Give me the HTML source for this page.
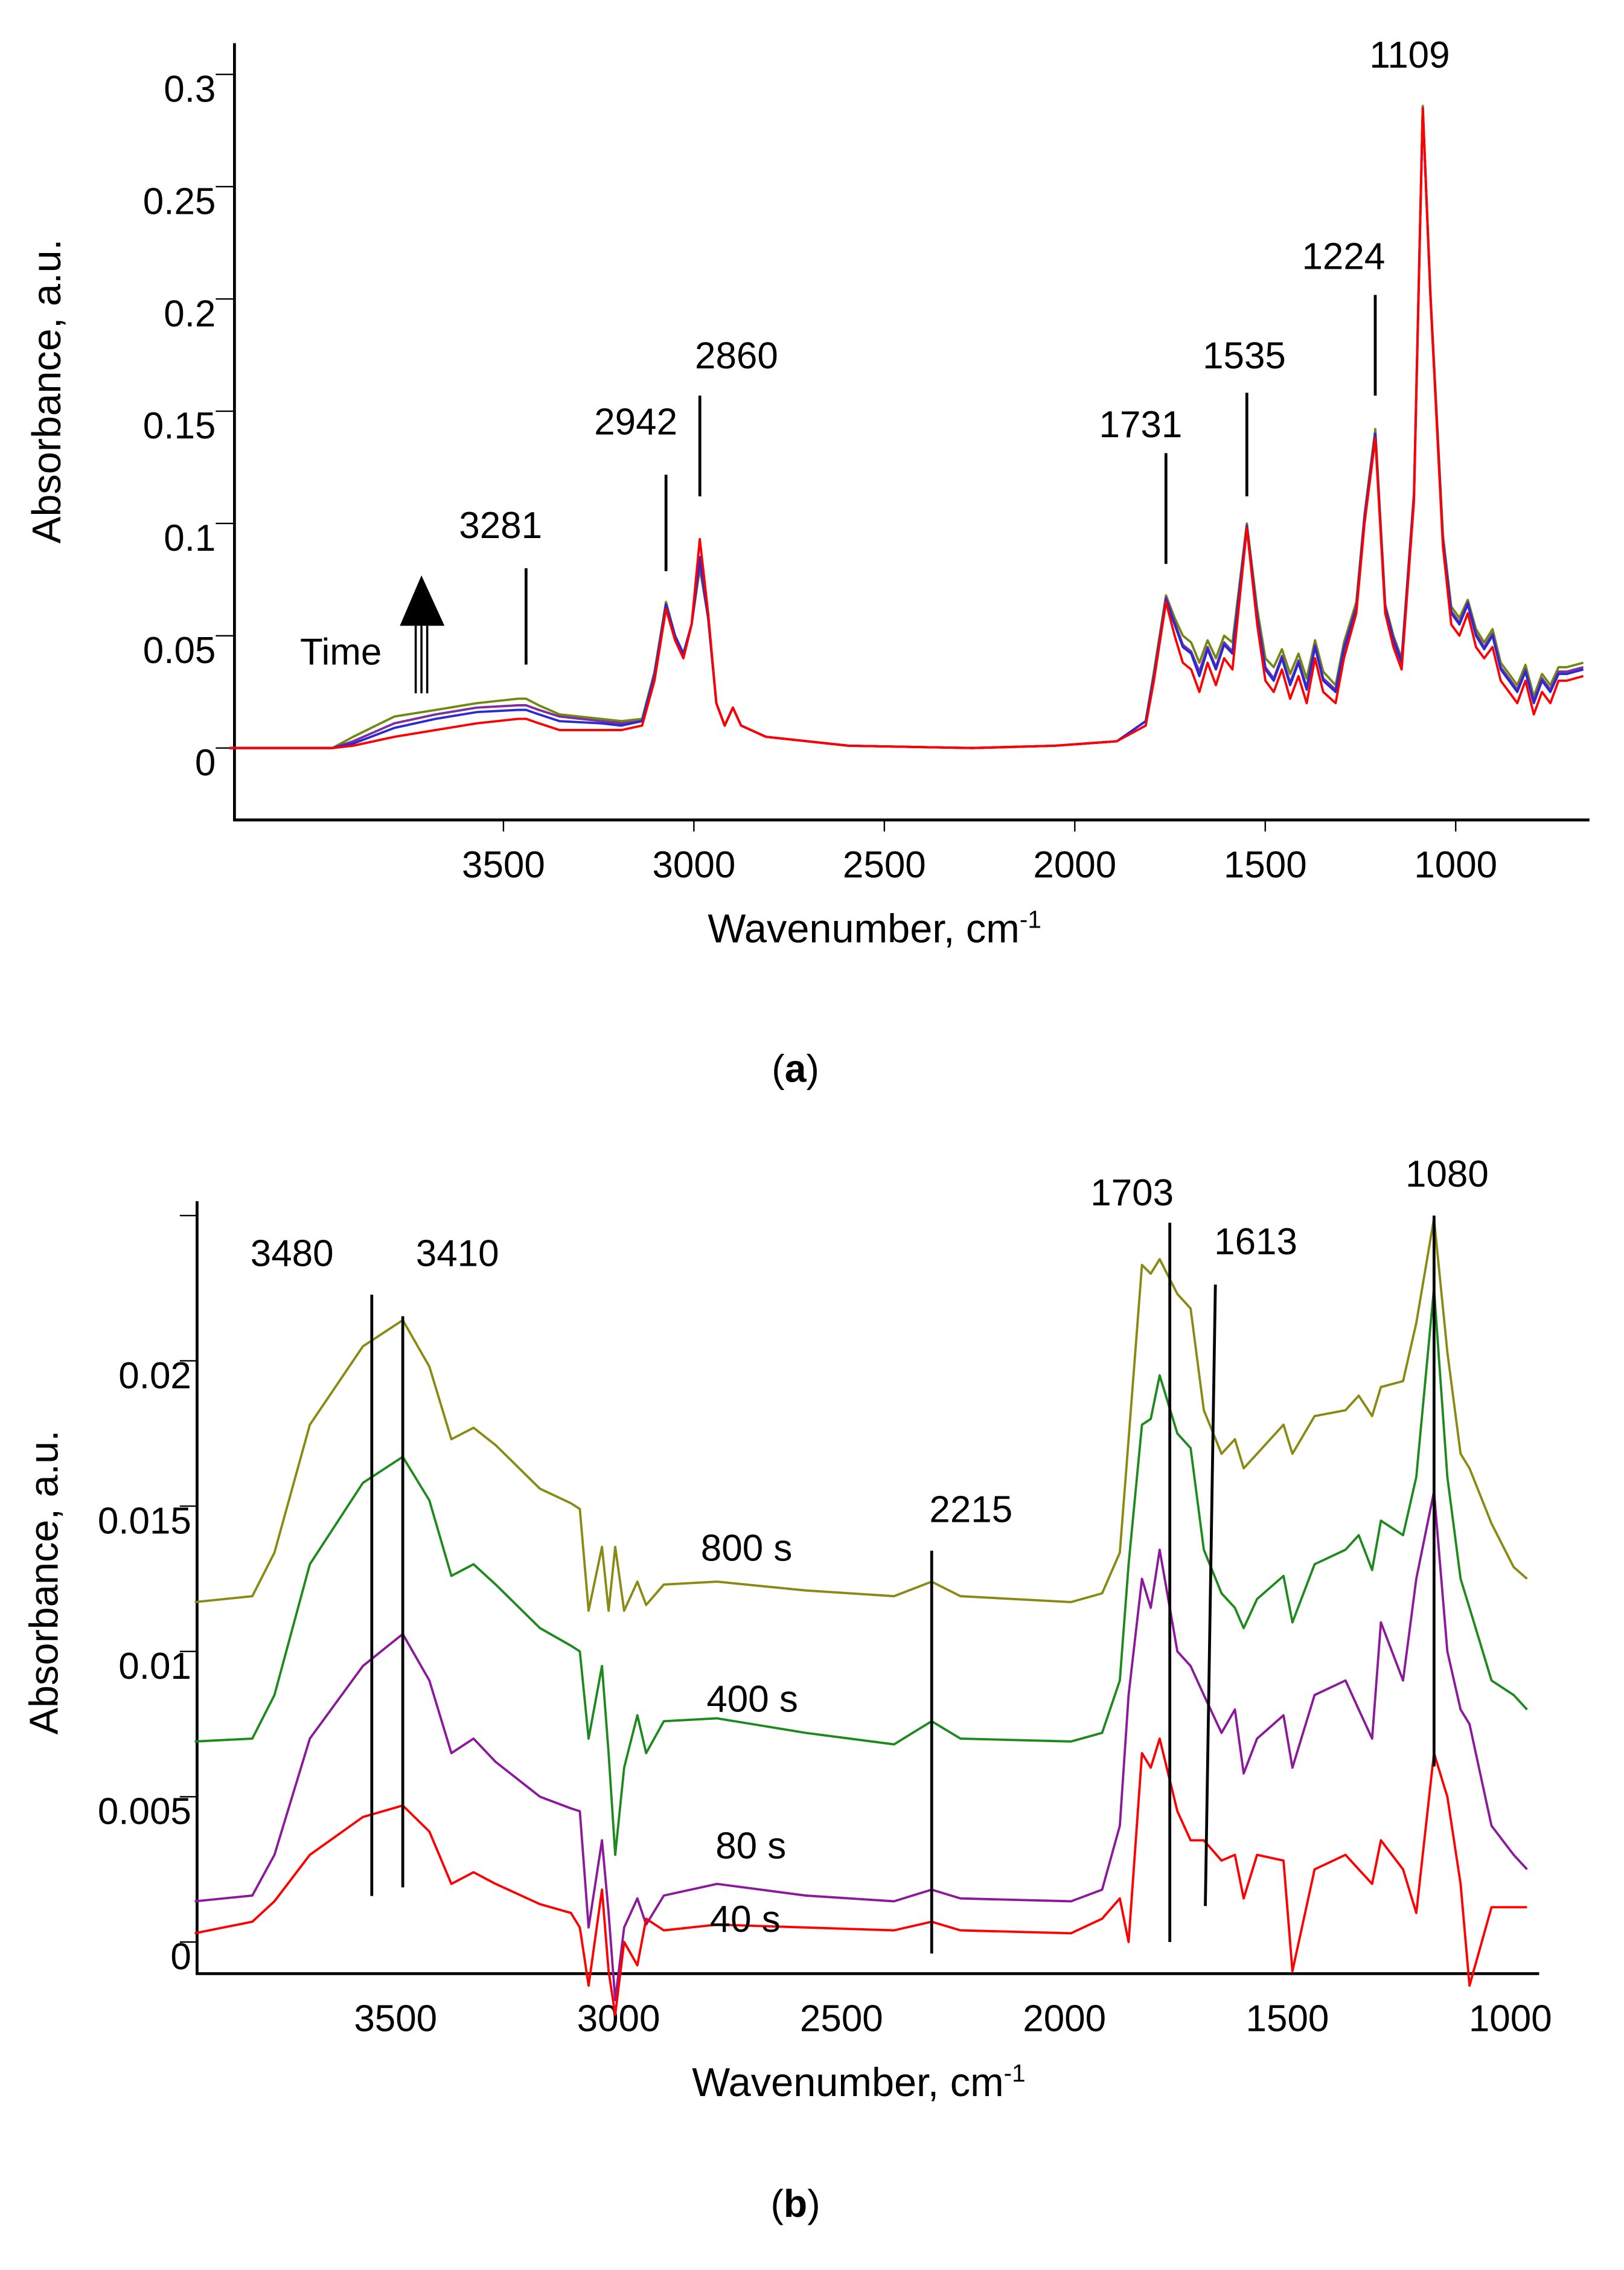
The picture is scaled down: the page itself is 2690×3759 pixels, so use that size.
<!DOCTYPE html>
<html><head><meta charset="utf-8"><style>
html,body{margin:0;padding:0;background:#fff}
svg{display:block}
text{font-family:"Liberation Sans",sans-serif;fill:#000}
</style></head><body>
<svg id="chart" width="2690" height="3759" viewBox="0 0 1129 1578" preserveAspectRatio="none" xmlns="http://www.w3.org/2000/svg">
<rect width="1129" height="1578" fill="#fff"/>
<g id="ga"></g>
<g id="gb"></g>
</svg>
<script>
// ---------- Panel (a) data (absorbance x1000) ----------
const wnA=[4000,3750,3700,3600,3500,3400,3300,3281,3250,3200,3100,3050,3000,2970,2942,2920,2900,2880,2860,2840,2820,2800,2780,2760,2700,2500,2200,2000,1850,1780,1760,1731,1710,1690,1670,1650,1630,1610,1590,1570,1535,1510,1490,1470,1450,1430,1410,1390,1370,1350,1320,1300,1270,1250,1224,1200,1180,1160,1130,1109,1090,1060,1040,1020,1000,980,960,940,920,900,880,860,840,820,800,780,760,720];
const redA=[0,0,1,5,8,11,13,13,11,8,8,8,10,30,62,48,40,55,93,60,20,10,18,10,5,1,0,1,3,10,30,65,50,38,35,25,38,28,40,35,98,55,30,25,35,22,32,20,40,25,20,40,60,100,138,60,45,35,110,285,200,90,55,50,60,45,40,45,30,25,20,30,15,25,20,30,30,32];
const blueA=[0,0,2,9,13,16,17,17,15,12,11,10,12,32,64,50,42,55,85,58,20,10,18,10,5,1,0,1,3,12,32,66,55,45,42,32,44,35,46,42,99,58,35,30,40,28,38,26,45,30,25,44,62,102,140,62,48,38,112,285,200,92,60,55,64,50,44,50,35,30,25,34,20,30,25,33,33,35];
const purpleA=[0,0,3,11,15,18,19,19,17,14,12,11,12,33,64,50,42,55,82,58,20,10,18,10,5,1,0,1,3,12,32,67,56,46,43,34,45,36,47,43,99,59,36,31,41,29,39,27,46,31,26,45,63,103,140,63,49,39,113,285,201,93,61,56,65,51,45,51,36,31,26,35,21,31,26,34,34,36];
const oliveA=[0,0,5,14,17,20,22,22,19,15,13,12,13,34,65,50,42,55,80,58,20,10,18,10,5,1,0,1,3,12,34,68,58,50,47,38,48,40,50,47,100,62,40,36,44,33,42,31,48,34,28,47,65,104,142,64,50,40,114,286,202,95,63,58,66,53,47,53,38,33,28,37,23,33,28,36,36,38];
const yTicksA=[0,50,100,150,200,250,300];
const yTickLabelsA=["0","0.05","0.1","0.15","0.2","0.25","0.3"];
const xTicksA=[3500,3000,2500,2000,1500,1000];
const peaksA=[3281,2942,2860,1731,1535,1224,1109];

// ---------- Panel (b) data (absorbance x1000) ----------
const wnB=[3880,3750,3700,3620,3500,3410,3350,3300,3250,3200,3100,3030,3010,2990,2960,2945,2930,2910,2880,2860,2820,2700,2500,2300,2215,2150,1900,1830,1790,1770,1740,1720,1700,1660,1630,1600,1560,1530,1510,1480,1420,1400,1350,1280,1250,1220,1200,1150,1120,1080,1050,1020,1000,950,900,870];
const olive800=[11.7,11.9,13.4,17.8,20.5,21.4,19.8,17.3,17.7,17.1,15.6,15.1,14.9,11.4,13.6,11.4,13.6,11.4,12.4,11.6,12.3,12.4,12.1,11.9,12.4,11.9,11.7,12.0,13.4,17.3,23.3,23.0,23.5,22.3,21.8,18.3,16.8,17.3,16.3,16.8,17.8,16.8,18.1,18.3,18.8,18.1,19.1,19.3,21.3,24.9,20.3,16.8,16.3,14.4,12.9,12.5];
const green400=[6.9,7.0,8.5,13.0,15.8,16.7,15.2,12.6,13.0,12.3,10.8,10.2,10.0,7.0,9.5,6.5,3.0,6.0,7.8,6.5,7.6,7.7,7.2,6.8,7.6,7.0,6.9,7.2,9.0,13.0,17.8,18.0,19.5,17.5,17.0,13.5,12.0,11.5,10.8,11.8,12.6,11.0,13.0,13.5,14.0,12.8,14.5,14.0,16.0,22.5,16.0,12.5,11.5,9.0,8.5,8.0];
const purple80=[1.4,1.6,3.0,7.0,9.5,10.6,9.0,6.5,7.0,6.2,5.0,4.6,4.5,0.5,3.5,1.0,-2.0,0.5,1.5,0.6,1.6,2.0,1.6,1.4,1.8,1.5,1.4,1.8,4.0,8.5,12.5,11.5,13.5,10.0,9.5,8.5,7.2,8.0,5.8,7.0,7.8,6.0,8.5,9.0,8.0,7.0,11.0,9.0,12.5,15.5,10.0,8.0,7.5,4.0,3.0,2.5];
const red40=[0.3,0.7,1.4,3.0,4.3,4.7,3.8,2.0,2.4,2.0,1.3,1.0,0.5,-1.5,1.8,-1.0,-2.5,0.0,-0.8,0.8,0.4,0.6,0.5,0.4,0.7,0.4,0.3,0.8,1.5,0.0,6.5,6.0,7.0,4.5,3.5,3.5,2.8,3.0,1.5,3.0,2.8,-1.0,2.5,3.0,2.5,2.0,3.5,2.5,1.0,6.5,5.0,2.0,-1.5,1.2,1.2,1.2];
const yTicksB=[0,5,10,15,20,25];
const yTickLabelsB=["0","0.005","0.01","0.015","0.02",""];
const xTicksB=[3500,3000,2500,2000,1500,1000];
const seriesLabelsB=["800 s","400 s","80 s","40 s"];

const NS="http://www.w3.org/2000/svg";
function mk(parent,tag,attrs,txt){const e=document.createElementNS(NS,tag);for(const k in attrs)e.setAttribute(k,attrs[k]);if(txt!==undefined)e.textContent=txt;parent.appendChild(e);return e;}

// ---------- Panel A ----------
const ga=document.getElementById('ga');
const xA=w=>463+(2942-w)*0.287;
const xLabA=w=>350+(3500-w)*0.2648;
const yA=m=>520-m*1.561;
let ax=mk(ga,'path',{d:'M163,30 V570 H1105',fill:'none',stroke:'#000','stroke-width':2});


yTicksA.forEach((t,i)=>{
  const tk=mk(ga,'line',{x1:150,x2:163,y1:yA(t),y2:yA(t),stroke:'#000','stroke-width':1});
  
  
  const lb=mk(ga,'text',{x:150,y:yA(t)+19,'font-size':26,'text-anchor':'end'},yTickLabelsA[i]);
  
  
});
xTicksA.forEach(t=>{
  const x=xLabA(t);
  const tk=mk(ga,'line',{x1:x,x2:x,y1:570,y2:578,stroke:'#000','stroke-width':1});
  
  
  const lb=mk(ga,'text',{x:x,y:610,'font-size':26,'text-anchor':'middle'},String(t));
  
  
});
let t1=mk(ga,'text',{x:608,y:655,'font-size':28,'text-anchor':'middle'},'Wavenumber, cm');


mk(t1,'tspan',{dy:-10,'font-size':17},'-1');
let t2=mk(ga,'text',{x:0,y:0,'font-size':28,'text-anchor':'middle',transform:'translate(42,272) rotate(-90)'},'Absorbance, a.u.');


[[oliveA,'#6f8a10'],[purpleA,'#7a2ea0'],[blueA,'#2a2ad0'],[redA,'#ff0000']].forEach(([s,c])=>{
  const d=s.map((v,i)=>(i?'L':'M')+xA(wnA[i]).toFixed(1)+','+yA(v).toFixed(1)).join(' ');
  const p=mk(ga,'path',{d:d,fill:'none',stroke:c,'stroke-width':1.6,'stroke-linejoin':'round'});
  
  
});
const peakPosA={3281:[395,462,348,374],2942:[330,397,442,302],2860:[275,345,512,256],1731:[315,392,793,304],1535:[273,345,865,256],1224:[205,275,934,187],1109:[null,null,980,47]};
peaksA.forEach(p=>{
  const g=peakPosA[p];
  if(g[0]!==null){const l=mk(ga,'line',{x1:xA(p),x2:xA(p),y1:g[0],y2:g[1],stroke:'#000','stroke-width':2});
    
    }
  const t=mk(ga,'text',{x:g[2],y:g[3],'font-size':26,'text-anchor':'middle'},String(p));
  
  
});
let tl=mk(ga,'text',{x:237,y:462,'font-size':26,'text-anchor':'middle'},'Time');


let ar=mk(ga,'g',{});


mk(ar,'polygon',{points:'278,435 293,400 309,435',fill:'#000'});
[289,293,297].forEach(x=>mk(ar,'line',{x1:x,x2:x,y1:435,y2:482,stroke:'#000','stroke-width':1.5}));
let la=mk(ga,'text',{x:553,y:752,'font-size':27,'text-anchor':'middle','font-family':'Liberation Serif, serif'},'(');


mk(la,'tspan',{'font-weight':'bold'},'a');mk(la,'tspan',{},')');

// ---------- Panel B ----------
const gb=document.getElementById('gb');
const xB=w=>280+(3410-w)*0.3077;
const xLabB=w=>275+(3500-w)*0.31;
const yB=v=>1350-v*20.2;
let bx=mk(gb,'path',{d:'M137,835 V1372 H1070',fill:'none',stroke:'#000','stroke-width':2});


yTicksB.forEach((t,i)=>{
  const tk=mk(gb,'line',{x1:125,x2:137,y1:yB(t),y2:yB(t),stroke:'#000','stroke-width':1});
  
  
  const lb=mk(gb,'text',{x:133,y:yB(t)+19,'font-size':26,'text-anchor':'end'},yTickLabelsB[i]);
  
  
});
xTicksB.forEach(t=>{
  const lb=mk(gb,'text',{x:xLabB(t),y:1412,'font-size':26,'text-anchor':'middle'},String(t));
  
  
});
let t3=mk(gb,'text',{x:597,y:1457,'font-size':28,'text-anchor':'middle'},'Wavenumber, cm');


mk(t3,'tspan',{dy:-10,'font-size':17},'-1');
let t4=mk(gb,'text',{x:0,y:0,'font-size':28,'text-anchor':'middle',transform:'translate(40,1100) rotate(-90)'},'Absorbance, a.u.');


[[olive800,'#8a8a12'],[green400,'#1e8a1e'],[purple80,'#8a1a9a'],[red40,'#ff0000']].forEach(([s,c])=>{
  const d=s.map((v,i)=>(i?'L':'M')+xB(wnB[i]).toFixed(1)+','+yB(v).toFixed(1)).join(' ');
  const p=mk(gb,'path',{d:d,fill:'none',stroke:c,'stroke-width':1.6,'stroke-linejoin':'round'});
  
  
});
const peaksB=[[3480,900,1318,203,880],[3410,915,1312,318,880],[2215,1078,1358,675,1058],[1703,850,1350,787,838],[1613,893,1325,873,872],[1080,845,1228,1006,825]];
peaksB.forEach(([p,y1,y2,tx,ty])=>{
  const x=xB(p)+(p===1703?8:(p===1613?7:0));
  const l=mk(gb,'line',{x1:x+(p===1613?5:0),x2:x-(p===1613?2:0),y1:y1,y2:y2,stroke:'#000','stroke-width':2});
  
  
  const t=mk(gb,'text',{x:tx,y:ty,'font-size':26,'text-anchor':'middle'},String(p));
  
  
});
const serLabPos=[[519,1085],[523,1190],[522,1292],[518,1343]];
seriesLabelsB.forEach((s,i)=>{
  const t=mk(gb,'text',{x:serLabPos[i][0],y:serLabPos[i][1],'font-size':26,'text-anchor':'middle'},s);
  
  
});
let lbb=mk(gb,'text',{x:553,y:1541,'font-size':27,'text-anchor':'middle','font-family':'Liberation Serif, serif'},'(');


mk(lbb,'tspan',{'font-weight':'bold'},'b');mk(lbb,'tspan',{},')');
</script>
</body></html>
